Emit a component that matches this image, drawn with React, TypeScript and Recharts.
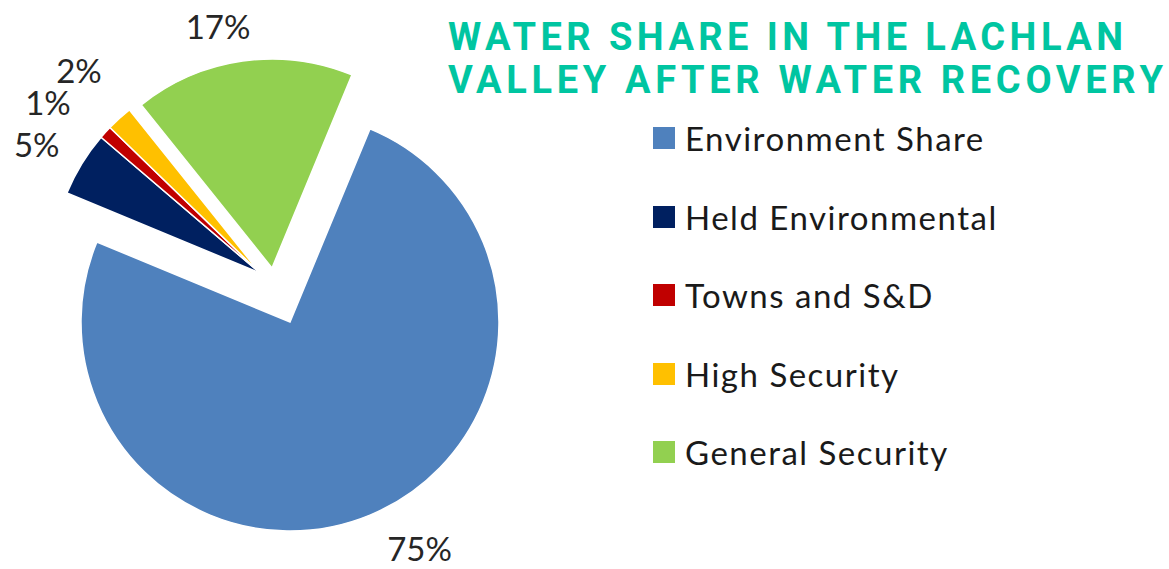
import { PieChart, Pie, Cell, Legend } from "recharts";

const categories = [
  "Environment Share",
  "Held Environmental",
  "Towns and S&D",
  "High Security",
  "General Security",
];
const shares = [75, 5, 1, 2, 17];
const colors = ["#4f81bd", "#002060", "#c00000", "#ffc000", "#92d050"];
const titleLines = ["WATER SHARE IN THE LACHLAN", "VALLEY AFTER WATER RECOVERY"];

const data = categories.map((name, i) => ({ name, value: shares[i] }));

const FONT = "Lato, 'Open Sans', sans-serif";
const RADIUS = 209;
const START = 67.5;

// which slices each pie layer shows, and where that layer's centre sits
const layers = [
  { show: [0], cx: 290, cy: 322 },
  { show: [1, 2, 3], cx: 260, cy: 273 },
  { show: [4], cx: 272, cy: 268 },
];

// small hand nudges so the crowded labels don't sit on each other (like excel's best fit)
const labelNudge = [
  [5, 3],
  [5, -3],
  [-11, -9],
  [4, -25],
  [-20, -3],
];

const RAD = Math.PI / 180;

function makeLabel(show: number[]) {
  return (props: any) => {
    const { cx, cy, midAngle, outerRadius, index, percent } = props;
    if (!show.includes(index)) return null;
    const r = outerRadius + 32;
    const c = Math.cos(-midAngle * RAD);
    const x = cx + r * c + labelNudge[index][0];
    const y = cy + r * Math.sin(-midAngle * RAD) + labelNudge[index][1];
    const anchor = c > 0.3 ? "start" : c < -0.3 ? "end" : "middle";
    return (
      <text
        key={`lbl-${index}`}
        x={x}
        y={y}
        textAnchor={anchor}
        dominantBaseline="central"
        fontFamily={FONT}
        fontSize={33}
        fill="#262626"
      >
        {`${Math.round(percent * 100)}%`}
      </text>
    );
  };
}

function LegendBox() {
  return (
    <div style={{ fontFamily: FONT }}>
      {categories.map((name, i) => (
        <div
          key={name}
          style={{ display: "flex", alignItems: "center", height: 78.5 }}
        >
          <div
            style={{ width: 22, height: 22, background: colors[i], marginRight: 10 }}
          />
          <span
            style={{
              fontSize: 33,
              letterSpacing: 1.5,
              color: "#1a1a1a",
              whiteSpace: "nowrap",
            }}
          >
            {name}
          </span>
        </div>
      ))}
    </div>
  );
}

export default function App() {
  return (
    <div style={{ position: "relative", width: 1169, height: 569, background: "#fff" }}>
      <style>{"body{margin:0}"}</style>
      <PieChart
        width={1169}
        height={569}
        margin={{ top: 0, right: 0, bottom: 0, left: 0 }}
      >
        {layers.map((layer, li) => (
          <Pie
            key={li}
            data={data}
            dataKey="value"
            nameKey="name"
            cx={layer.cx}
            cy={layer.cy}
            outerRadius={RADIUS}
            startAngle={START}
            endAngle={START - 360}
            isAnimationActive={false}
            labelLine={false}
            label={makeLabel(layer.show)}
            legendType="none"
          >
            {data.map((d, i) => (
              <Cell
                key={d.name}
                fill={layer.show.includes(i) ? colors[i] : "transparent"}
                stroke={layer.show.includes(i) ? "#ffffff" : "none"}
                strokeWidth={1.5}
              />
            ))}
          </Pie>
        ))}
        <Legend
          content={() => <LegendBox />}
          wrapperStyle={{ position: "absolute", left: 653, top: 99, width: 420 }}
        />
      </PieChart>
      <svg
        width={1169}
        height={110}
        style={{ position: "absolute", left: 0, top: 0, pointerEvents: "none" }}
      >
        {titleLines.map((line, i) => (
          <text
            key={line}
            x={448}
            y={50 + i * 43}
            fontFamily="Roboto, sans-serif"
            fontWeight={700}
            fontSize={38}
            fill="#00c5a1"
            textLength={i === 0 ? 675 : 715}
            lengthAdjust="spacing"
          >
            {line}
          </text>
        ))}
      </svg>
    </div>
  );
}
